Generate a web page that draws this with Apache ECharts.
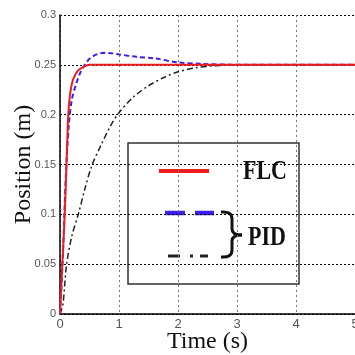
<!DOCTYPE html>
<html>
<head>
<meta charset="utf-8">
<script src="https://cdn.jsdelivr.net/npm/echarts@6/dist/echarts.min.js"></script>
<style>
  html, body { margin: 0; padding: 0; background: #fff; }
  #chart { width: 355px; height: 355px; }
</style>
</head>
<body>
<div id="chart"></div>
<script>
// Step response of the position loop: fuzzy controller vs. two PID tunings
const flcTime  = [0, 0.04, 0.08, 0.11, 0.14, 0.17, 0.22, 0.3, 0.4, 0.5, 5];
const flcPos   = [0, 0.05, 0.10, 0.15, 0.20, 0.22, 0.235, 0.244, 0.248, 0.25, 0.25];

const pid1Time = [0, 0.05, 0.1, 0.15, 0.2, 0.28, 0.35, 0.42, 0.5, 0.62, 0.75, 0.9, 1.0, 1.3, 1.6, 2.0, 2.4, 2.8, 3.2, 5];
const pid1Pos  = [0, 0.06, 0.14, 0.19, 0.215, 0.232, 0.243, 0.25, 0.256, 0.2605, 0.262, 0.2615, 0.2605, 0.258, 0.2565, 0.2525, 0.251, 0.2502, 0.25, 0.25];

const pid2Time = [0, 0.05, 0.11, 0.2, 0.31, 0.42, 0.54, 0.7, 0.85, 1.0, 1.25, 1.5, 1.75, 2.0, 2.3, 2.6, 3.0, 5];
const pid2Pos  = [0, 0.01, 0.049, 0.078, 0.1, 0.125, 0.149, 0.17, 0.188, 0.202, 0.218, 0.229, 0.237, 0.243, 0.247, 0.249, 0.25, 0.25];

const xTicks = [0, 1, 2, 3, 4, 5];
const yTicks = [0, 0.05, 0.1, 0.15, 0.2, 0.25, 0.3];

const pairs = (t, v) => t.map((x, i) => [x, v[i]]);

const narrow = 'Liberation Sans Narrow, Liberation Sans, sans-serif';
const serif = 'Liberation Serif, Times New Roman, serif';

// curly brace grouping the two PID legend entries
const braceStyle = { stroke: '#111', lineWidth: 3, fill: null };
const brace = [
  { type: 'bezierCurve', shape: { x1: 221, y1: 212, cpx1: 232, cpy1: 211, x2: 232, y2: 219 }, style: braceStyle },
  { type: 'line', shape: { x1: 232, y1: 219, x2: 232, y2: 229 }, style: braceStyle },
  { type: 'bezierCurve', shape: { x1: 232, y1: 229, cpx1: 232, cpy1: 235, x2: 242, y2: 235 }, style: braceStyle },
  { type: 'bezierCurve', shape: { x1: 242, y1: 235, cpx1: 232, cpy1: 235, x2: 232, y2: 241 }, style: braceStyle },
  { type: 'line', shape: { x1: 232, y1: 241, x2: 232, y2: 250 }, style: braceStyle },
  { type: 'bezierCurve', shape: { x1: 232, y1: 250, cpx1: 232, cpy1: 258, x2: 221, y2: 257 }, style: braceStyle }
];

const chart = echarts.init(document.getElementById('chart'), null, { renderer: 'canvas' });
chart.setOption({
  animation: false,
  backgroundColor: '#fff',
  grid: { left: 60, top: 15, right: 0, bottom: 41, outerBoundsMode: 'none', containLabel: false },
  xAxis: {
    type: 'value', min: xTicks[0], max: xTicks[xTicks.length - 1], interval: 1,
    name: 'Time (s)', nameLocation: 'middle', nameGap: 16, nameMoveOverlap: false,
    nameTextStyle: { fontFamily: serif, fontSize: 24, color: '#111' },
    axisLine: { show: true, onZero: false, lineStyle: { color: '#000', width: 1.5 } },
    axisTick: { show: false },
    axisLabel: { margin: 4, fontFamily: narrow, fontSize: 13, color: '#555' },
    splitLine: { show: true, lineStyle: { color: '#777', type: [2, 3], width: 1 } }
  },
  yAxis: {
    type: 'value', min: yTicks[0], max: yTicks[yTicks.length - 1], interval: 0.05,
    name: 'Position (m)', nameLocation: 'middle', nameGap: 24, nameMoveOverlap: false,
    nameTextStyle: { fontFamily: serif, fontSize: 24, color: '#111' },
    axisLine: { show: true, onZero: false, lineStyle: { color: '#000', width: 1.5 } },
    axisTick: { show: false },
    axisLabel: { margin: 4, fontFamily: narrow, fontSize: 11, color: '#555',
                 formatter: v => String(+v.toFixed(2)) },
    splitLine: { show: true, lineStyle: { color: '#000', type: [2, 2], width: 1 } }
  },
  series: [
    {
      name: 'PID (dash-dot)', type: 'line', showSymbol: false, smooth: 0.3,
      data: pairs(pid2Time, pid2Pos),
      lineStyle: { color: '#222', width: 1.5, type: [6, 3, 2, 3] }, z: 3
    },
    {
      name: 'PID (dashed)', type: 'line', showSymbol: false, smooth: 0.3,
      data: pairs(pid1Time, pid1Pos),
      lineStyle: { color: '#3b1ff0', width: 2, type: [5, 3] }, z: 4
    },
    {
      name: 'FLC', type: 'line', showSymbol: false, smooth: 0.3,
      data: pairs(flcTime, flcPos),
      lineStyle: { color: '#ee1c1c', width: 2 }, z: 5
    }
  ],
  graphic: [
    {
      type: 'group', z: 100,
      children: [
        { type: 'rect', shape: { x: 128, y: 143, width: 171, height: 141 },
          style: { fill: '#fff', stroke: '#333', lineWidth: 1.5 } },
        { type: 'line', shape: { x1: 159, y1: 171, x2: 209, y2: 171 },
          style: { stroke: '#ee1c1c', lineWidth: 4 } },
        { type: 'text', x: 243, y: 172, scaleY: 1.2,
          style: { text: 'FLC', font: 'bold 22px ' + serif, fill: '#111', verticalAlign: 'middle' } },
        { type: 'line', shape: { x1: 165, y1: 213, x2: 214, y2: 213 },
          style: { stroke: '#3b1ff0', lineWidth: 4.5, lineDash: [20, 10] } },
        { type: 'line', shape: { x1: 168, y1: 256, x2: 208, y2: 256 },
          style: { stroke: '#222', lineWidth: 3, lineDash: [12, 10, 3, 7] } }
      ].concat(brace).concat([
        { type: 'text', x: 248, y: 238, scaleY: 1.25,
          style: { text: 'PID', font: 'bold 22px ' + serif, fill: '#111', verticalAlign: 'middle' } }
      ])
    }
  ]
});
</script>
</body>
</html>
